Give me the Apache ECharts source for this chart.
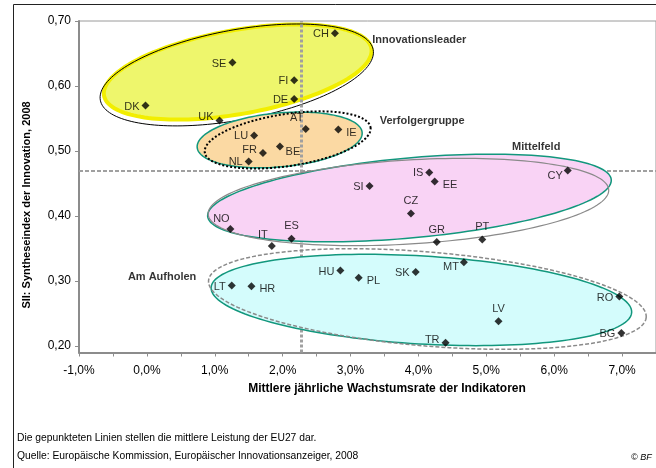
<!DOCTYPE html>
<html>
<head>
<meta charset="utf-8">
<script src="https://cdn.jsdelivr.net/npm/echarts@6/dist/echarts.min.js"></script>
<style>
  html, body { margin: 0; padding: 0; background: #fff; }
  #chart { width: 656px; height: 468px; }
</style>
</head>
<body>
<div id="chart"></div>
<script>
// Innovationsanzeiger 2008 - SII vs. Wachstumsrate

const countries = ['CH', 'SE', 'FI', 'DE', 'DK', 'UK', 'AT', 'LU', 'BE', 'FR', 'NL', 'IE',
    'IS', 'EE', 'CY', 'SI', 'CZ', 'GR', 'PT', 'NO', 'IT', 'ES',
    'LT', 'HR', 'HU', 'PL', 'SK', 'MT', 'RO', 'LV', 'BG', 'TR'];
const growth = [2.77, 1.26, 2.17, 2.17, -0.02, 1.07, 2.34, 1.58, 1.96, 1.71, 1.50, 2.82,
    4.16, 4.24, 6.20, 3.28, 3.89, 4.27, 4.94, 1.23, 1.84, 2.13,
    1.25, 1.54, 2.85, 3.12, 3.96, 4.67, 6.96, 5.18, 6.99, 4.40];
const sii = [0.681, 0.636, 0.609, 0.580, 0.570, 0.547, 0.534, 0.524, 0.507, 0.497, 0.484, 0.533,
    0.467, 0.453, 0.470, 0.446, 0.404, 0.360, 0.364, 0.380, 0.354, 0.365,
    0.293, 0.292, 0.316, 0.305, 0.314, 0.329, 0.276, 0.238, 0.220, 0.205];

// EU27 average (dotted lines)
const euGrowth = 2.275;
const euSii = 0.4745;

// group ellipses: centre (x, y), half axes (x units, y units), tilt in degrees
const ellipseNames = ['leaderFill', 'leaderLine', 'followFill', 'followLine', 'midFill', 'midLine', 'catchFill', 'catchLine'];
const ellipseCx = [1.338, 1.324, 1.956, 2.074, 3.868, 3.853, 4.044, 4.132];
const ellipseCy = [0.6215, 0.617, 0.517, 0.517, 0.4277, 0.4215, 0.2708, 0.2723];
const ellipseA = [2.00, 2.044, 1.22, 1.235, 2.985, 2.956, 3.103, 3.235];
const ellipseB = [0.0646, 0.0692, 0.0415, 0.040, 0.0615, 0.0646, 0.0677, 0.0723];
const ellipseTilt = [10, 10.5, 5.2, 8.6, 5.2, 3.5, -3.4, -4.8];

const groupNames = ['Innovationsleader', 'Verfolgergruppe', 'Mittelfeld', 'Am Aufholen'];
const groupX = [3.32, 3.43, 5.38, -0.28];
const groupY = [0.671, 0.546, 0.506, 0.306];

const xTicks = [-1, 0, 1, 2, 3, 4, 5, 6, 7];
const yTicks = [0.2, 0.3, 0.4, 0.5, 0.6, 0.7];

// label placement around the markers
const labelSide = {
    CH: 'l', SE: 'l', FI: 'l', DE: 'l', DK: 'l', UK: 'lu', AT: 'tl', LU: 'l', BE: 'br',
    FR: 'lu', NL: 'l', IE: 'r', IS: 'l', EE: 'r', CY: 'ld', SI: 'l', CZ: 't', GR: 't',
    PT: 't', NO: 'tl', IT: 'tl', ES: 't', LT: 'l', HR: 'r', HU: 'l', PL: 'r', SK: 'l',
    MT: 'ld', RO: 'l', LV: 't', BG: 'l', TR: 'lu'
};

const FONT = '"Liberation Sans", Arial, sans-serif';

function labelFor(code) {
    const s = labelSide[code];
    if (s === 'l') return { position: 'left', distance: 2, offset: [0, 1] };
    if (s === 'lu') return { position: 'left', distance: 2, offset: [0, -3] };
    if (s === 'ld') return { position: 'left', distance: 1, offset: [0, 5] };
    if (s === 'r') return { position: 'right', distance: 4, offset: [0, 3] };
    if (s === 't') return { position: 'top', distance: 3, offset: [0, 0] };
    if (s === 'tl') return { position: 'top', distance: 1, offset: [-9, 0] };
    if (s === 'br') return { position: 'bottom', distance: 0, offset: [13, -4] };
    return { position: 'left' };
}

function ellipseSeries(idx, style, z) {
    return {
        name: ellipseNames[idx],
        type: 'custom',
        silent: true,
        z: z,
        data: [[ellipseCx[idx], ellipseCy[idx], ellipseA[idx], ellipseB[idx], ellipseTilt[idx]]],
        renderItem(params, api) {
            const c = api.coord([api.value(0), api.value(1)]);
            const aPx = api.size([api.value(2), 0])[0];
            const bPx = api.size([0, api.value(3)])[1];
            const th = api.value(4) * Math.PI / 180;
            const pts = [];
            for (let i = 0; i < 160; i++) {
                const t = i / 160 * Math.PI * 2;
                const u = aPx * Math.cos(t);
                const v = bPx * Math.sin(t);
                pts.push([c[0] + u * Math.cos(th) + v * Math.sin(th),
                          c[1] - u * Math.sin(th) + v * Math.cos(th)]);
            }
            return { type: 'polygon', shape: { points: pts }, style: style };
        }
    };
}

const chart = echarts.init(document.getElementById('chart'), null, { renderer: 'canvas' });

const pointData = countries.map((c, i) => ({
    name: c,
    value: [growth[i], sii[i]],
    label: labelFor(c)
}));

const option = {
    backgroundColor: '#fff',
    animation: false,
    textStyle: { fontFamily: FONT },
    grid: {
        left: 79, top: 21, right: -1, bottom: 115.5,
        show: true, borderColor: '#9a9a9a', borderWidth: 1
    },
    xAxis: {
        type: 'value',
        min: -1, max: 7.5, interval: 0.5,
        axisLine: { onZero: false, lineStyle: { color: '#8c8c8c', width: 2 } },
        axisTick: { show: true, length: 4, lineStyle: { color: '#8c8c8c' } },
        splitLine: { show: false },
        axisLabel: {
            color: '#000', fontSize: 12, margin: 12, fontFamily: FONT,
            customValues: xTicks,
            formatter: v => v.toFixed(1).replace('.', ',') + '%'
        }
    },
    yAxis: {
        type: 'value',
        min: 0.19, max: 0.70,
        axisLine: { show: true, onZero: false, lineStyle: { color: '#8c8c8c', width: 2 } },
        axisTick: { show: true, length: 4, customValues: yTicks, lineStyle: { color: '#8c8c8c' } },
        splitLine: { show: false },
        axisLabel: {
            color: '#000', fontSize: 12, margin: 8, fontFamily: FONT,
            customValues: yTicks,
            formatter: v => v.toFixed(2).replace('.', ',')
        }
    },
    series: [
        ellipseSeries(0, { fill: '#eef66c', stroke: '#f2ee00', lineWidth: 4 }, 1),
        ellipseSeries(1, { fill: null, stroke: '#000', lineWidth: 1 }, 2),
        ellipseSeries(2, { fill: '#fbd9a3', stroke: '#12977d', lineWidth: 1.5 }, 3),
        ellipseSeries(3, { fill: null, stroke: '#000', lineWidth: 2, lineDash: [2, 2] }, 4),
        ellipseSeries(4, { fill: '#f9d3f5', stroke: '#12977d', lineWidth: 1.5 }, 5),
        ellipseSeries(5, { fill: null, stroke: '#8a8a8a', lineWidth: 1.2 }, 6),
        ellipseSeries(6, { fill: '#d4fcfc', stroke: '#12977d', lineWidth: 1.5 }, 7),
        ellipseSeries(7, { fill: null, stroke: '#8a8a8a', lineWidth: 1.5, lineDash: [4, 2] }, 8),
        {
            name: 'EU27',
            type: 'scatter',
            data: [],
            z: 9,
            markLine: {
                silent: true,
                symbol: 'none',
                label: { show: false },
                data: [
                    { xAxis: euGrowth, lineStyle: { color: '#a0a0a0', width: 3, type: [3, 2] } },
                    { yAxis: euSii, lineStyle: { color: '#a0a0a0', width: 2, type: [4, 2] } }
                ]
            }
        },
        {
            name: 'Länder',
            type: 'scatter',
            symbol: 'diamond',
            symbolSize: 8,
            z: 10,
            itemStyle: { color: '#000' },
            label: { show: true, formatter: '{b}', color: '#000', fontSize: 11, fontFamily: FONT },
            data: pointData
        },
        {
            name: 'Gruppen',
            type: 'scatter',
            symbolSize: 0,
            z: 11,
            silent: true,
            label: {
                show: true, position: 'right', distance: 0, formatter: '{b}',
                color: '#000', fontSize: 11, fontWeight: 'bold', fontFamily: FONT
            },
            data: groupNames.map((g, i) => ({ name: g, value: [groupX[i], groupY[i]] }))
        }
    ],
    graphic: [
        {
            type: 'rect', silent: true, z: 0,
            shape: { x: 13.5, y: 4.5, width: 700, height: 500 },
            style: { fill: null, stroke: '#222', lineWidth: 1 }
        },
        {
            type: 'text', x: 27, y: 205, rotation: Math.PI / 2,
            style: {
                text: 'SII: Syntheseindex der Innovation, 2008', font: 'bold 11px ' + FONT,
                fill: '#000', textAlign: 'center', textVerticalAlign: 'middle'
            }
        },
        {
            type: 'text', x: 387, y: 389,
            style: {
                text: 'Mittlere jährliche Wachstumsrate der Indikatoren', font: 'bold 12px ' + FONT,
                fill: '#000', textAlign: 'center', textVerticalAlign: 'middle'
            }
        },
        {
            type: 'text', x: 17, y: 438,
            style: {
                text: 'Die gepunkteten Linien stellen die mittlere Leistung der EU27 dar.',
                font: '10.3px ' + FONT, fill: '#000', textVerticalAlign: 'middle'
            }
        },
        {
            type: 'text', x: 17, y: 456,
            style: {
                text: 'Quelle: Europäische Kommission, Europäischer Innovationsanzeiger, 2008',
                font: '10.3px ' + FONT, fill: '#000', textVerticalAlign: 'middle'
            }
        },
        {
            type: 'text', x: 631, y: 457,
            style: {
                text: '© BF', font: 'italic 9px ' + FONT, fill: '#000', textVerticalAlign: 'middle'
            }
        }
    ]
};

chart.setOption(option);
</script>
</body>
</html>
